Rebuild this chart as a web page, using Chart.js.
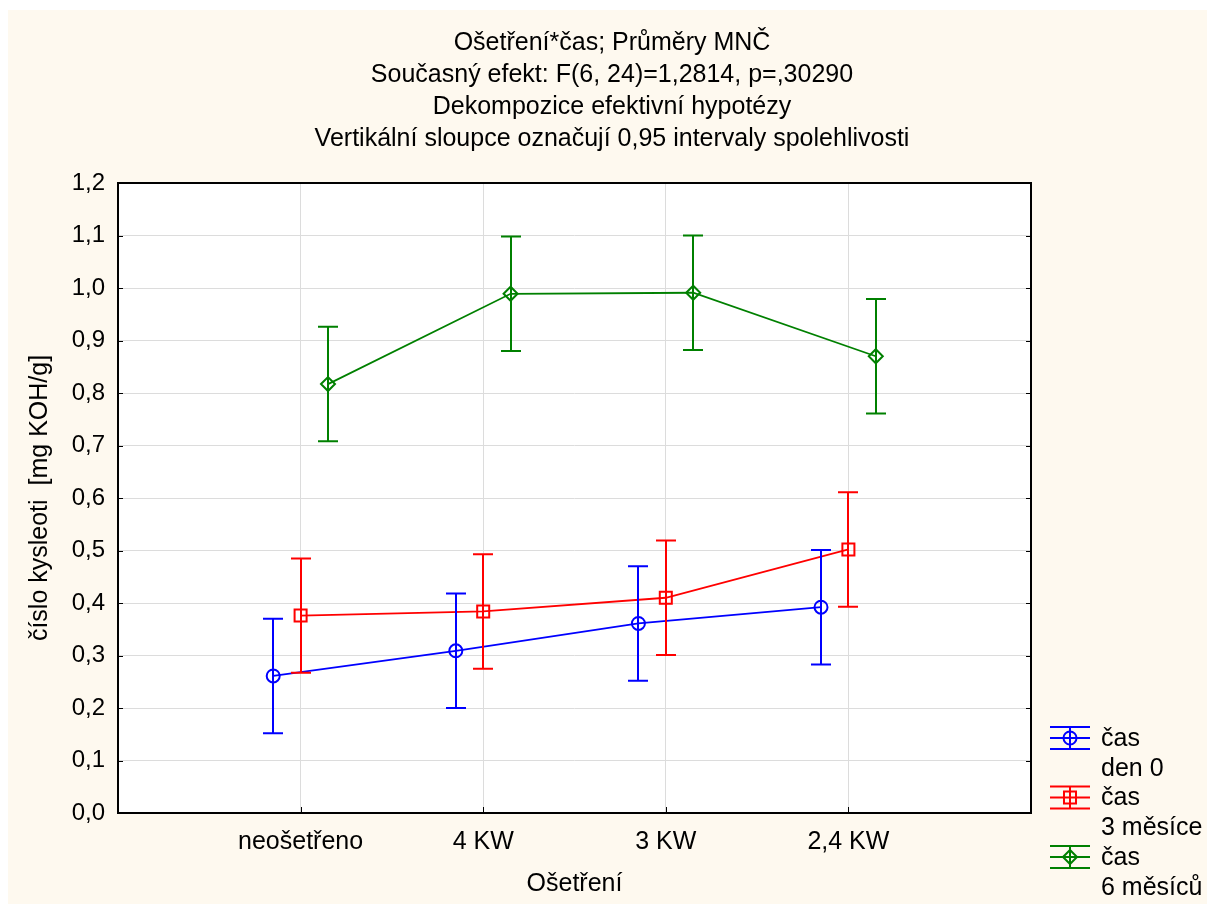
<!DOCTYPE html>
<html>
<head>
<meta charset="utf-8">
<script src="https://cdn.jsdelivr.net/npm/chart.js@4.4.0/dist/chart.umd.min.js"></script>
<style>
  html, body { margin: 0; padding: 0; background: #fff; }
</style>
</head>
<body>
<canvas id="chart" width="1207" height="905"></canvas>
<script>
// categories and values
const categories = ['neošetřeno', '4 KW', '3 KW', '2,4 KW'];
const titleLines = [
  'Ošetření*čas; Průměry MNČ',
  'Současný efekt: F(6, 24)=1,2814, p=,30290',
  'Dekompozice efektivní hypotézy',
  'Vertikální sloupce označují 0,95 intervaly spolehlivosti'
];
const den0 = [0.261, 0.309, 0.361, 0.392];
const den0Ci = [0.109, 0.109, 0.109, 0.109];
const mesice3 = [0.376, 0.384, 0.410, 0.502];
const mesice3Ci = [0.109, 0.109, 0.109, 0.109];
const mesice6 = [0.817, 0.989, 0.991, 0.870];
const mesice6Ci = [0.109, 0.109, 0.109, 0.109];
const offsets = [-0.15, 0, 0.15];

const FONT = '"Liberation Sans", Arial, sans-serif';
Chart.defaults.font.family = FONT;
Chart.defaults.color = '#000';

function points(values, ci, off) {
  return values.map((v, i) => ({ x: i + 1 + off, y: v, ci: ci[i] }));
}

const series = [
  { label: ['čas', 'den 0'], data: points(den0, den0Ci, offsets[0]), color: '#0000ff', style: 'circle', radius: 6.5 },
  { label: ['čas', '3 měsíce'], data: points(mesice3, mesice3Ci, offsets[1]), color: '#ff0000', style: 'rect', radius: 8.5 },
  { label: ['čas', '6 měsíců'], data: points(mesice6, mesice6Ci, offsets[2]), color: '#008000', style: 'rectRot', radius: 7 }
];

const background = {
  id: 'background',
  beforeDraw(chart) {
    const { ctx, chartArea: a } = chart;
    ctx.save();
    ctx.fillStyle = '#ffffff';
    ctx.fillRect(0, 0, chart.width, chart.height);
    ctx.fillStyle = '#fef9ef';
    ctx.fillRect(8, 10, chart.width - 8, chart.height - 11);
    ctx.fillStyle = '#ffffff';
    ctx.fillRect(a.left, a.top, a.right - a.left, a.bottom - a.top);
    ctx.restore();
  }
};

const errorBars = {
  id: 'errorBars',
  afterDatasetsDraw(chart) {
    const { ctx, scales: { x, y } } = chart;
    ctx.save();
    ctx.lineWidth = 2;
    chart.data.datasets.forEach((ds) => {
      ctx.strokeStyle = ds.borderColor;
      ds.data.forEach((p) => {
        const px = Math.round(x.getPixelForValue(p.x));
        const top = y.getPixelForValue(p.y + p.ci);
        const bot = y.getPixelForValue(p.y - p.ci);
        ctx.beginPath();
        ctx.moveTo(px, top); ctx.lineTo(px, bot);
        ctx.moveTo(px - 10, top); ctx.lineTo(px + 10, top);
        ctx.moveTo(px - 10, bot); ctx.lineTo(px + 10, bot);
        ctx.stroke();
      });
    });
    ctx.restore();
  }
};

const frame = {
  id: 'frame',
  afterDraw(chart) {
    const { ctx, chartArea: a, scales: { x, y } } = chart;
    ctx.save();
    ctx.strokeStyle = '#000';
    ctx.lineWidth = 1;
    ctx.beginPath();
    y.ticks.forEach((t) => {
      const py = Math.round(y.getPixelForValue(t.value)) + 0.5;
      ctx.moveTo(a.left, py); ctx.lineTo(a.left + 5, py);
      ctx.moveTo(a.right, py); ctx.lineTo(a.right - 5, py);
    });
    x.ticks.forEach((t) => {
      const px = Math.round(x.getPixelForValue(t.value)) + 0.5;
      ctx.moveTo(px, a.bottom); ctx.lineTo(px, a.bottom - 6);
    });
    ctx.stroke();
    ctx.lineWidth = 2;
    ctx.strokeRect(a.left, a.top, a.right - a.left, a.bottom - a.top);
    ctx.restore();
  }
};

const legendBox = {
  id: 'legendBox',
  afterDraw(chart) {
    const { ctx } = chart;
    ctx.save();
    ctx.font = '25px ' + FONT;
    ctx.textBaseline = 'middle';
    ctx.textAlign = 'left';
    chart.data.datasets.forEach((ds, i) => {
      const cy = 738 + i * 59.5;
      ctx.strokeStyle = ds.borderColor;
      ctx.lineWidth = 2;
      ctx.beginPath();
      ctx.moveTo(1050, cy - 11); ctx.lineTo(1090, cy - 11);
      ctx.moveTo(1050, cy); ctx.lineTo(1090, cy);
      ctx.moveTo(1050, cy + 11); ctx.lineTo(1090, cy + 11);
      ctx.moveTo(1070, cy - 11); ctx.lineTo(1070, cy + 11);
      ctx.stroke();
      ctx.fillStyle = 'rgba(0,0,0,0)';
      Chart.helpers.drawPoint(ctx, {
        pointStyle: ds.pointStyle, radius: ds.pointRadius, borderWidth: 2, rotation: 0
      }, 1070, cy);
      ctx.fillStyle = '#000';
      ds.label.forEach((line, k) => ctx.fillText(line, 1101, cy + 1 + k * 30));
    });
    ctx.restore();
  }
};

new Chart(document.getElementById('chart'), {
  type: 'line',
  data: {
    datasets: series.map((s) => ({
      label: s.label,
      data: s.data,
      borderColor: s.color,
      backgroundColor: 'rgba(0,0,0,0)',
      borderWidth: 1.8,
      pointStyle: s.style,
      pointRadius: s.radius,
      pointBorderWidth: 2,
      pointBackgroundColor: 'rgba(0,0,0,0)',
      tension: 0
    }))
  },
  options: {
    responsive: false,
    animation: false,
    devicePixelRatio: 1,
    layout: { padding: { left: 17, right: 0, top: 0, bottom: 0 } },
    plugins: {
      legend: { display: false },
      tooltip: { enabled: false },
      title: {
        display: true,
        text: titleLines,
        color: '#000',
        font: { size: 25, weight: 'normal', lineHeight: '32px' },
        padding: { top: 27, bottom: 28 }
      }
    },
    scales: {
      x: {
        type: 'linear',
        min: 0,
        max: 5,
        afterBuildTicks: (scale) => {
          scale.ticks = categories.map((c, i) => ({ value: i + 1 }));
        },
        afterFit: (scale) => { scale.height = 92; },
        grid: { color: '#dcdcdc', drawTicks: false },
        border: { display: false },
        ticks: {
          callback: (v) => categories[v - 1],
          font: { size: 25 },
          padding: 14,
          autoSkip: false,
          maxRotation: 0
        },
        title: { display: true, text: 'Ošetření', font: { size: 25 }, padding: { top: 0, bottom: 6 } }
      },
      y: {
        min: 0,
        max: 1.2,
        afterFit: (scale) => { scale.width = 101; },
        grid: { color: '#dcdcdc', drawTicks: false },
        border: { display: false },
        ticks: {
          stepSize: 0.1,
          callback: (v) => v.toFixed(1).replace('.', ','),
          font: { size: 24 },
          padding: 13
        },
        title: { display: true, text: 'číslo kysleoti  [mg KOH/g]', font: { size: 25 }, padding: { top: 8, bottom: 0 } }
      },
      // empty right-hand axis that only reserves room for the legend
      side: {
        type: 'linear',
        position: 'right',
        min: 0,
        max: 1.2,
        afterFit: (scale) => { scale.width = 176; },
        grid: { display: false },
        border: { display: false },
        ticks: { display: false }
      }
    }
  },
  plugins: [background, errorBars, frame, legendBox]
});
</script>
</body>
</html>
